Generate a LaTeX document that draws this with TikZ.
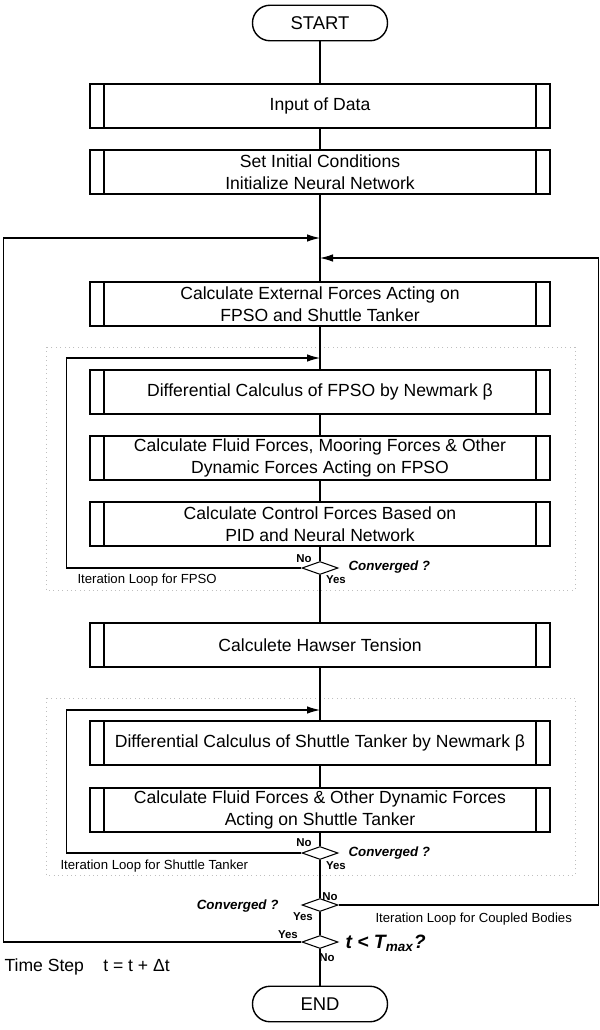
\documentclass[tikz,border=0pt]{standalone}
\usepackage{fontspec}
\setmainfont{Liberation Sans}
\usetikzlibrary{shapes.geometric}
\usetikzlibrary{arrows.meta}

\begin{document}
\begin{tikzpicture}[x=0.2mm,y=-0.2mm,line width=0.6pt,
	Box/.style={draw, line width=0.8pt, minimum width=92mm, minimum height=8.8mm,
		inner sep=0pt, align=center, font=\fontsize{10}{12.5}\selectfont,
		path picture={
			\draw[line width=0.8pt] ([xshift=2.8mm]path picture bounding box.north west) -- ([xshift=2.8mm]path picture bounding box.south west);
			\draw[line width=0.8pt] ([xshift=-2.8mm]path picture bounding box.north east) -- ([xshift=-2.8mm]path picture bounding box.south east);}},
	Term/.style={draw, line width=0.8pt, rounded corners=3.5mm, minimum width=27mm,
		minimum height=7.1mm, font=\fontsize{10.5}{12}\selectfont},
	Test/.style={draw, diamond, minimum width=7.2mm, minimum height=2.6mm, inner sep=0pt},
	Tag/.style={font=\fontsize{6.5}{7}\selectfont\bfseries, inner sep=0pt},
	Ask/.style={font=\fontsize{7.6}{9}\selectfont\bfseries\itshape, inner sep=0pt},
	Note/.style={font=\fontsize{7.5}{9}\selectfont, inner sep=0pt},
	Loop/.style={draw=gray!50, dotted, line width=0.5pt},
	Back/.style={-{Latex[length=2.6mm,width=1.5mm]}}]
			%\draw[help lines] (0,0) grid (600,1030);
			\useasboundingbox (0,0) rectangle (600,1030);
			
			\node[Term] (start) at (320,23) {START};
			\node[Box] (input) at (320,106) {Input of Data};
			\node[Box] (init) at (320,172) {Set Initial Conditions\\Initialize Neural Network};
			\node[Box] (ext) at (320,304) {Calculate External Forces Acting on\\FPSO and Shuttle Tanker};
			
			\node[Box] (dfpso) at (320,392) {Differential Calculus of FPSO by Newmark β};
			\node[Box] (ffpso) at (320,458) {Calculate Fluid Forces, Mooring Forces \& Other\\Dynamic Forces Acting on FPSO};
			\node[Box] (ctrl) at (320,524) {Calculate Control Forces Based on\\PID and Neural Network};
			\node[Test] (cf) at (320,568) {};
			
			\node[Box] (hawser) at (320,645) {Calculete Hawser Tension};
			
			\node[Box] (dst) at (320,743) {Differential Calculus of Shuttle Tanker by Newmark β};
			\node[Box] (fst) at (320,810) {Calculate Fluid Forces \& Other Dynamic Forces\\Acting on Shuttle Tanker};
			\node[Test] (cst) at (320,853) {};
			
			\node[Test] (cc) at (320,905) {};
			\node[Test] (ct) at (320,942) {};
			\node[Term] (end) at (320,1004) {END};
			
			% loop frames
			\draw[Loop] (46,347) rectangle (575,590);
			\draw[Loop] (46,698) rectangle (575,875);
			
			\coordinate (inTime) at (320,238);
			\coordinate (inCouple) at (320,258);
			\coordinate (inFPSO) at (320,358);
			\coordinate (inST) at (320,710);
			
			\draw (start) -- (input);
			\draw (input) -- (init);
			\draw (init) -- (ext);
			\draw (ext) -- (dfpso);
			\draw (dfpso) -- (ffpso);
			\draw (ffpso) -- (ctrl);
			\draw (ctrl) -- (cf.north);
			\draw (cf.south) -- (hawser);
			\draw (hawser) -- (dst);
			\draw (dst) -- (fst);
			\draw (fst) -- (cst.north);
			\draw (cst.south) -- (cc.north);
			\draw (cc.south) -- (ct.north);
			\draw (ct.south) -- (end);
			
			\draw[Back] (cf.west) -- ++(-235,0) |- (inFPSO);
			\draw[Back] (cst.west) -- ++(-235,0) |- (inST);
			\draw[Back] (cc.east) -- ++(260,0) |- (inCouple);
			\draw[Back] (ct.west) -- ++(-298,0) |- (inTime);
			
			% labels
			\node[Tag] (noF) at (304,559) {No};
			\node[Tag] (yesF) at (336,580) {Yes};
			\node[Ask,anchor=west] (askF) at (348,567) {Converged ?};
			\node[Note,anchor=west] (loopF) at (77,580) {Iteration Loop for FPSO};
			
			\node[Tag] (noS) at (304,843) {No};
			\node[Tag] (yesS) at (336,866) {Yes};
			\node[Ask,anchor=west] (askS) at (348,853) {Converged ?};
			\node[Note,anchor=west] (loopS) at (60,866) {Iteration Loop for Shuttle Tanker};
			
			\node[Tag] (noC) at (330,897) {No};
			\node[Tag] (yesC) at (303,917) {Yes};
			\node[Ask,anchor=east] (askC) at (279,906) {Converged ?};
			\node[Note,anchor=west] (loopC) at (375,919) {Iteration Loop for Coupled Bodies};
			
			\node[Tag] (yesT) at (288,935) {Yes};
			\node[Tag] (noT) at (327,958) {No};
			\node[anchor=west,inner sep=0pt,font=\fontsize{11}{12}\selectfont\bfseries\itshape] (askT) at (345,943) {t < T\textsubscript{max}?};
			\node[anchor=west,inner sep=0pt,font=\fontsize{10}{12}\selectfont] (step) at (4,967) {Time Step\hspace{1.1em}t = t + Δt};
			
			\end{tikzpicture}
\end{document}
